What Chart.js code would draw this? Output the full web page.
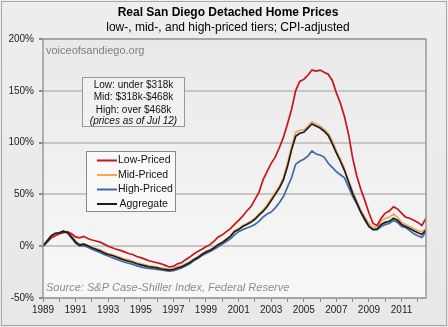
<!DOCTYPE html>
<html>
<head>
<meta charset="utf-8">
<script src="https://cdn.jsdelivr.net/npm/chart.js@4/dist/chart.umd.min.js"></script>
<style>
  html, body { margin: 0; padding: 0; background: #ececec; }
  #wrap { width: 448px; height: 327px; }
</style>
</head>
<body>
<div id="wrap"><canvas id="c" width="448" height="327"></canvas></div>
<script>
// Quarterly sample dates (decimal years), Jan 1989 .. Jul 2012
const years = [];
for (let i = 0; i <= 94; i++) years.push(1989 + i * 0.25);

// Real price change since Jan 1989, percent
const lowPriced = [
  0, 4, 8, 10, 12, 13, 14, 12, 9, 8, 9.5, 7.5, 6, 5, 4, 2,
  0, -1.5, -3, -4, -5.5, -7, -8, -10, -11, -12.5, -14, -15, -16, -17, -18.5, -20,
  -19.5, -17, -16, -13, -10.5, -7.5, -5, -3, -0.5, 1.5, 5, 9, 11, 14, 17, 21,
  25, 29, 34, 38, 45, 52, 64, 72, 80, 86, 95, 105, 118, 132, 150, 159,
  161, 165, 170, 169, 170, 168, 166, 160, 148, 138, 125, 108, 85, 68, 55, 44,
  32, 22, 20, 27, 32, 34, 38, 36, 32, 28, 27, 25, 23, 20, 27
];
const midPriced = [
  0, 4, 8, 11, 12, 13, 13.5, 10, 5, 2, 2.5, 1, -1, -2.5, -3.5, -5.5,
  -7, -8, -9.5, -11, -12.5, -13, -14.5, -16, -17, -18, -19, -19.5, -20, -21, -21.5, -22,
  -21.5, -20, -19, -17, -15, -12.5, -10, -7.5, -5, -3.5, -1, 2, 4, 7, 10, 15,
  17, 20, 22, 24, 27, 31, 35, 40, 46, 52, 58, 66, 80, 96, 110, 112,
  112, 116, 120, 118, 116, 113, 109, 102, 92, 84, 75, 63, 53, 43, 35, 28,
  22, 18, 19, 24, 27, 28, 31, 28, 23, 21, 19, 17, 15, 14, 17
];
const highPriced = [
  0, 5, 10, 12, 13, 14.5, 13, 8, 3, 0, 0.5, -1, -3, -4.5, -6, -8,
  -9.5, -11, -12.5, -14, -15.5, -16.5, -17.5, -19, -20, -21, -21.5, -22, -22.5, -23, -23.5, -24,
  -23.5, -22.5, -21, -19, -17, -14, -12, -9, -7, -5, -3, -0.5, 2, 4.5, 7, 11,
  14, 16, 17.5, 19, 21, 24, 28, 31, 33, 37, 42, 48, 57, 66, 79, 82,
  84, 87, 92, 89, 88, 86, 80, 76, 72, 69, 66, 57, 48, 41, 33, 25,
  19, 16, 16, 19, 21, 22, 25, 23, 19, 18, 15, 12, 10, 8.5, 14
];
const aggregate = [
  0, 5, 10, 12.5, 13, 14.5, 13, 9, 4, 1, 2, 0.5, -1.5, -3, -4.5, -6.5,
  -8, -9, -10.5, -12, -13.5, -14.5, -15.5, -17, -18, -19, -20, -20.5, -21, -22, -22.5, -23,
  -22.5, -21, -20, -18, -16, -13, -11, -8, -5.5, -4, -1.5, 1.5, 3.5, 6.5, 9.5, 14,
  16, 19, 21, 23, 26, 30, 33.5, 38, 44, 50, 56, 64, 77, 93, 106, 109,
  110, 114, 118, 116, 114, 111, 107, 99, 90, 82, 73, 62, 51, 42, 33, 26,
  19, 16, 16.5, 21, 23, 24, 27, 25, 21, 19, 17, 15, 13, 11.5, 15.5
];

const seriesNames = ['Low-Priced', 'Mid-Priced', 'High-Priced', 'Aggregate'];
const seriesColors = ['#c8141b', '#f0a85a', '#3f6aa8', '#1c1c1c'];
const seriesValues = [lowPriced, midPriced, highPriced, aggregate];

const titleText = 'Real San Diego Detached Home Prices';
const subtitleText = 'low-, mid-, and high-priced tiers; CPI-adjusted';
const siteText = 'voiceofsandiego.org';
const tierLines = ['Low: under $318k', 'Mid: $318k-$468k', 'High: over $468k'];
const tierNote = '(prices as of Jul 12)';
const sourceText = 'Source: S&P Case-Shiller Index, Federal Reserve';

const FONT = '"Liberation Sans", Arial, sans-serif';

const datasets = seriesNames.map((name, i) => ({
  label: name,
  data: years.map((x, k) => ({ x: x, y: seriesValues[i][k] })),
  borderColor: seriesColors[i],
  backgroundColor: seriesColors[i],
  borderWidth: 1.7,
  pointRadius: 0,
  tension: 0,
  fill: false,
  order: name === 'Aggregate' ? 0 : (name === 'Low-Priced' ? 1 : 2)
}));

// Panel, plot frame, titles, notes and legend box
const decor = {
  id: 'decor',
  beforeDraw(chart) {
    const ctx = chart.ctx;
    const W = chart.width, H = chart.height;
    const a = chart.chartArea;
    ctx.save();
    let g = ctx.createLinearGradient(0, 0, 0, H);
    g.addColorStop(0, '#eeeeee');
    g.addColorStop(1, '#e8e8e8');
    ctx.fillStyle = g;
    ctx.fillRect(0, 0, W, H);
    ctx.strokeStyle = '#a8a8a8';
    ctx.lineWidth = 1;
    ctx.strokeRect(1.5, 1.5, W - 3, H - 3);

    g = ctx.createLinearGradient(0, a.top, 0, a.bottom);
    g.addColorStop(0, '#e9e9e9');
    g.addColorStop(1, '#f8f8f8');
    ctx.fillStyle = g;
    ctx.fillRect(a.left, a.top, a.right - a.left, a.bottom - a.top);

    ctx.fillStyle = '#000';
    ctx.textAlign = 'center';
    ctx.textBaseline = 'middle';
    ctx.font = 'bold 12px ' + FONT;
    ctx.fillText(titleText, 228, 13);
    ctx.font = '12px ' + FONT;
    ctx.fillText(subtitleText, 228, 27.5);
    ctx.restore();
  },
  afterDatasetsDraw(chart) {
    const ctx = chart.ctx;
    const a = chart.chartArea;
    ctx.save();
    // plot frame
    ctx.strokeStyle = '#9a9a9a';
    ctx.lineWidth = 1.5;
    ctx.strokeRect(a.left, a.top, a.right - a.left, a.bottom - a.top);

    ctx.textBaseline = 'middle';
    ctx.textAlign = 'left';
    ctx.fillStyle = '#808080';
    ctx.font = '11px ' + FONT;
    ctx.fillText(siteText, 46, 51);

    // tier price box
    ctx.fillStyle = '#f1f1f1';
    ctx.fillRect(82.5, 77.5, 102, 49);
    ctx.strokeStyle = '#999';
    ctx.lineWidth = 1;
    ctx.strokeRect(82.5, 77.5, 102, 49);
    ctx.fillStyle = '#111';
    ctx.textAlign = 'center';
    ctx.font = '10px ' + FONT;
    tierLines.forEach((t, i) => ctx.fillText(t, 133.5, 85.5 + i * 12.2));
    ctx.font = 'italic 10px ' + FONT;
    ctx.fillText(tierNote, 133.5, 121.5);

    // legend box
    ctx.fillStyle = '#f9f9f9';
    ctx.fillRect(86.5, 151.5, 89, 60);
    ctx.strokeStyle = '#8a8a8a';
    ctx.strokeRect(86.5, 151.5, 89, 60);
    ctx.font = '10.5px ' + FONT;
    ctx.textAlign = 'left';
    chart.data.datasets.forEach((ds, i) => {
      const y = 160.5 + i * 14.5;
      ctx.strokeStyle = ds.borderColor;
      ctx.lineWidth = 2;
      ctx.beginPath();
      ctx.moveTo(97, y);
      ctx.lineTo(117, y);
      ctx.stroke();
      ctx.fillStyle = '#111';
      ctx.fillText(ds.label, i === 3 ? 119.5 : 118, y);
    });

    ctx.fillStyle = '#8c8c8c';
    ctx.font = 'italic 11px ' + FONT;
    ctx.fillText(sourceText, 46, 288);
    ctx.restore();
  }
};

new Chart(document.getElementById('c'), {
  type: 'line',
  data: { datasets: datasets },
  options: {
    responsive: false,
    animation: false,
    devicePixelRatio: 1,
    layout: { padding: { top: 39, right: 22, left: 0, bottom: 0 } },
    plugins: { legend: { display: false }, title: { display: false }, tooltip: { enabled: false } },
    scales: {
      x: {
        type: 'linear',
        min: 1989,
        max: 2012.5,
        afterFit(s) { s.height = 29; },
        afterBuildTicks(s) {
          const t = [];
          for (let y = 1989; y <= 2012; y++) t.push({ value: y });
          s.ticks = t;
        },
        grid: { drawOnChartArea: false, tickLength: 4, tickColor: '#8a8a8a', lineWidth: 1 },
        border: { display: false },
        ticks: {
          autoSkip: false,
          maxRotation: 0,
          padding: 2,
          color: '#222',
          font: { family: FONT, size: 10 },
          callback: v => (v % 2 === 1 ? String(v) : '')
        }
      },
      y: {
        min: -50,
        max: 200,
        afterFit(s) { s.width = 43; },
        grid: { color: '#c6c6c6', lineWidth: 2, tickLength: 4, tickColor: '#8a8a8a' },
        border: { display: false },
        ticks: {
          stepSize: 50,
          padding: 5,
          color: '#222',
          font: { family: FONT, size: 10 },
          callback: v => v + '%'
        }
      }
    }
  },
  plugins: [decor]
});
</script>
</body>
</html>
